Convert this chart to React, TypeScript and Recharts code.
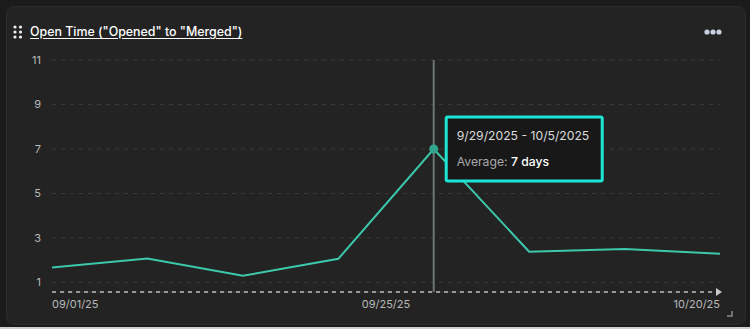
import React from "react";
import {
  LineChart,
  Line,
  XAxis,
  YAxis,
  CartesianGrid,
  Tooltip,
  ReferenceDot,
} from "recharts";

// Week offsets (days from 09/01/25)
const dayOffsets = [0, 7, 14, 21, 28, 35, 42, 49];
const weekStarts = ["9/1/2025", "9/8/2025", "9/15/2025", "9/22/2025", "9/29/2025", "10/6/2025", "10/13/2025", "10/20/2025"];
const weekEnds = ["9/7/2025", "9/14/2025", "9/21/2025", "9/28/2025", "10/5/2025", "10/12/2025", "10/19/2025", "10/26/2025"];
const averageDays = [1.67, 2.08, 1.3, 2.06, 7, 2.38, 2.5, 2.29];

const xTickValues = [0, 24.5, 49];
const xTickLabels = ["09/01/25", "09/25/25", "10/20/25"];
const yTicks = [1, 3, 5, 7, 9, 11];
const yDomain: [number, number] = [0.57, 11];

const activeIndex = 4;

const data = dayOffsets.map((d, i) => ({
  day: d,
  start: weekStarts[i],
  end: weekEnds[i],
  avg: averageDays[i],
}));

const FONT = "Inter, 'Noto Sans', sans-serif";

const CHART_W = 750;
const CHART_H = 329;
const MARGIN = { top: 60, right: 30, bottom: 7, left: 8 };
const X_AXIS_H = 30;
const TIP_H = 67;

// vertical position of the tooltip: centred on the active point, via the y domain
const plotH = CHART_H - MARGIN.top - MARGIN.bottom - X_AXIS_H;
const activeY =
  MARGIN.top + ((yDomain[1] - averageDays[activeIndex]) / (yDomain[1] - yDomain[0])) * plotH;
const tipY = activeY - TIP_H / 2;

const XTick = (props: any) => {
  const { x, y, payload, index } = props;
  const anchor = index === 0 ? "start" : index === xTickValues.length - 1 ? "end" : "middle";
  const i = xTickValues.indexOf(payload.value);
  return (
    <text x={x} y={y} dy="0.71em" textAnchor={anchor} fill="#b9b9b9" fontSize={11} fontFamily={FONT}>
      {xTickLabels[i] ?? ""}
    </text>
  );
};

const TipContent = (props: any) => {
  const { active, payload } = props;
  if (!active || !payload || !payload.length) return null;
  const d = payload[0].payload;
  return (
    <div
      style={{
        background: "#181818",
        border: "3px solid #1de6d6",
        borderRadius: 3,
        width: 153,
        height: TIP_H - 6,
        boxSizing: "content-box",
        padding: 0,
        fontFamily: FONT,
        fontSize: 12.2,
        position: "relative",
      }}
    >
      <div style={{ position: "absolute", left: 9, top: 10, color: "#dcdcdc", whiteSpace: "nowrap" }}>
        {d.start} - {d.end}
      </div>
      <div style={{ position: "absolute", left: 9, top: 36, whiteSpace: "nowrap" }}>
        <span style={{ color: "#a9a9a9" }}>Average: </span>
        <span style={{ color: "#ffffff", fontWeight: 500 }}>{Math.round(d.avg)} days</span>
      </div>
    </div>
  );
};

const Arrow = (props: any) => {
  const { cx, cy } = props;
  return <path d={`M ${cx - 4} ${cy - 4} L ${cx + 2} ${cy} L ${cx - 4} ${cy + 4} Z`} fill="#c8c8c8" />;
};

export default function App() {
  return (
    <div
      style={{
        position: "fixed",
        left: 0,
        top: 0,
        width: 750,
        height: 329,
        background: "#1b1b1b",
        overflow: "hidden",
        fontFamily: FONT,
      }}
    >
      <div
        style={{
          position: "absolute",
          left: 6,
          top: 6,
          width: 738,
          height: 317,
          background: "#232323",
          border: "1px solid #2c2c2c",
          borderRadius: 8,
        }}
      />
      <div style={{ position: "absolute", left: 0, top: 327, width: 750, height: 2, background: "#cfcfcf" }} />
      {/* drag handle */}
      <svg style={{ position: "absolute", left: 12, top: 24 }} width={12} height={16}>
        {[0, 1, 2].map((r) => (
          <g key={r}>
            <circle cx={3} cy={3 + r * 5} r={1.6} fill="#f0f0f0" />
            <circle cx={8.5} cy={3 + r * 5} r={1.6} fill="#f0f0f0" />
          </g>
        ))}
      </svg>
      <div
        style={{
          position: "absolute",
          left: 30,
          top: 24,
          color: "#ffffff",
          fontSize: 12.4,
          fontWeight: 500,
          textDecoration: "underline",
          textUnderlineOffset: 2,
          whiteSpace: "nowrap",
        }}
      >
        Open Time ("Opened" to "Merged")
      </div>
      {/* more menu */}
      <svg style={{ position: "absolute", left: 703, top: 28 }} width={22} height={8}>
        {[0, 1, 2].map((k) => (
          <circle key={k} cx={4 + k * 6} cy={4} r={2.6} fill="#c9d0df" />
        ))}
      </svg>
      {/* resize corner */}
      <svg style={{ position: "absolute", left: 726, top: 310 }} width={8} height={8}>
        <path d="M 6 1 L 6 6 L 1 6" stroke="#8a8a8a" strokeWidth={1.5} fill="none" />
      </svg>
      <div style={{ position: "absolute", left: 0, top: 0 }}>
        <LineChart width={CHART_W} height={CHART_H} data={data} margin={MARGIN}>
          <CartesianGrid vertical={false} stroke="#3a3a3a" strokeDasharray="4 5" />
          <XAxis
            dataKey="day"
            type="number"
            domain={[0, 49]}
            ticks={xTickValues}
            interval={0}
            height={X_AXIS_H}
            tickLine={false}
            tick={<XTick />}
            axisLine={{ stroke: "#bdbdbd", strokeDasharray: "4 4", strokeWidth: 1.5 }}
          />
          <YAxis
            type="number"
            domain={yDomain}
            ticks={yTicks}
            allowDataOverflow
            width={44}
            tickLine={false}
            axisLine={false}
            tickMargin={5}
            tick={{ fill: "#b9b9b9", fontSize: 11, fontFamily: FONT }}
          />
          <Tooltip
            defaultIndex={activeIndex}
            active
            offset={11}
            position={{ y: tipY }}
            isAnimationActive={false}
            cursor={{ stroke: "#6b7672", strokeWidth: 2 }}
            content={<TipContent />}
            wrapperStyle={{ outline: "none" }}
          />
          <ReferenceDot x={49} y={yDomain[0]} shape={<Arrow />} ifOverflow="visible" />
          <Line
            type="linear"
            dataKey="avg"
            stroke="#3cc8aa"
            strokeWidth={2}
            dot={false}
            activeDot={{ r: 4.5, fill: "#31a58e", stroke: "none" }}
            isAnimationActive={false}
          />
        </LineChart>
      </div>
    </div>
  );
}
